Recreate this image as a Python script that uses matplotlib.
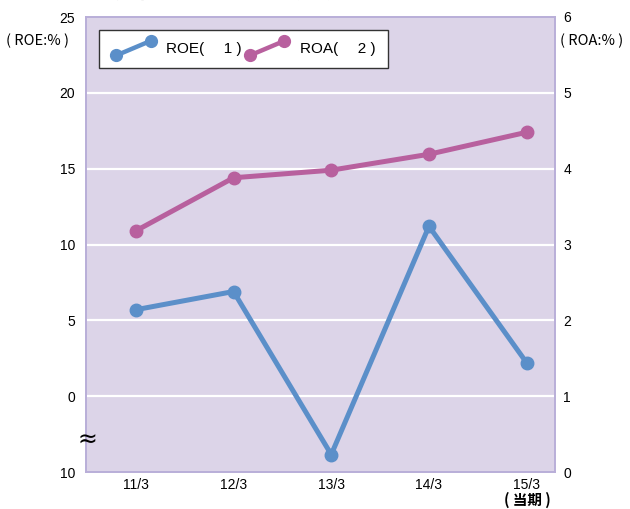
import numpy as np
import matplotlib.pyplot as plt
from matplotlib.legend_handler import HandlerBase
from matplotlib.lines import Line2D

plt.rcParams['font.family'] = ['Liberation Sans', 'Noto Sans CJK JP']
cjk = ['Noto Sans CJK JP', 'Liberation Sans']

periods = ['11/3', '12/3', '13/3', '14/3', '15/3']
roe = [5.7, 6.9, -7.7, 11.2, 2.2]      # %
roa = [3.18, 3.88, 3.98, 4.19, 4.48]  # %
roe_ticks = [-10, 0, 5, 10, 15, 20, 25]
roe_ticklabels = ['10', '0', '5', '10', '15', '20', '25']
roa_ticks = [0, 1, 2, 3, 4, 5, 6]

c_roe = '#5b8fc9'
c_roa = '#b8609e'
c_bg = '#dcd4e8'
c_edge = '#b9aed8'


# negative part of the ROE axis is squeezed (axis break)
def fwd(v):
    v = np.asarray(v, dtype=float)
    return np.where(v < 0, v / 2.0, v)


def inv(u):
    u = np.asarray(u, dtype=float)
    return np.where(u < 0, u * 2.0, u)


class DiagHandler(HandlerBase):
    def create_artists(self, legend, orig_handle, xdescent, ydescent,
                       width, height, fontsize, trans):
        x = [-xdescent + 0.12 * width, -xdescent + 0.92 * width]
        y = [-ydescent - 0.2 * height, -ydescent + 1.15 * height]
        ln = Line2D(x, y, color=orig_handle.get_color(), lw=3.2,
                    marker='o', ms=8.5)
        ln.set_transform(trans)
        return [ln]


fig = plt.figure(figsize=(6.3, 5.09), dpi=100)
ax = fig.add_axes([86 / 630, 1 - 472 / 509, 469 / 630, 455 / 509])
ax.set_facecolor(c_bg)
ax.set_yscale('function', functions=(fwd, inv))
ax.set_ylim(-10, 25)
ax.set_xlim(-0.51, 4.29)
ax.set_yticks(roe_ticks)
ax.set_yticklabels(roe_ticklabels)
ax.set_xticks(range(len(periods)))
ax.set_xticklabels(periods)
ax.tick_params(axis='y', length=0, labelsize=10, pad=8)
ax.tick_params(axis='x', length=0, labelsize=10, pad=4)
for y in roe_ticks[1:-1]:
    ax.axhline(y, color='white', lw=1.6, zorder=1)
for s in ax.spines.values():
    s.set_color(c_edge)
    s.set_linewidth(1.2)

x = np.arange(len(periods))
l1, = ax.plot(x, roe, color=c_roe, lw=3.6, marker='o', ms=9,
              solid_capstyle='round', zorder=3)

ax2 = ax.twinx()
ax2.set_ylim(0, 6)
ax2.set_yticks(roa_ticks)
ax2.tick_params(length=0, labelsize=10, pad=6)
for s in ax2.spines.values():
    s.set_color(c_edge)
    s.set_linewidth(1.2)
l2, = ax2.plot(x, roa, color=c_roa, lw=3.6, marker='o', ms=9,
               solid_capstyle='round', zorder=3)

leg = ax2.legend([l1, l2], ['ROE(\u3000 1 )', 'ROA(\u3000 2 )'],
                 handler_map={Line2D: DiagHandler()},
                 loc='upper left', bbox_to_anchor=(99 / 630, 1 - 30 / 509),
                 bbox_transform=fig.transFigure, ncol=2, fontsize=11,
                 frameon=True, fancybox=False, borderaxespad=0,
                 handlelength=2.8, columnspacing=0.2, handletextpad=0.8,
                 borderpad=0.8)
leg.get_frame().set_edgecolor('#333333')
leg.get_frame().set_linewidth(1.0)
leg.get_frame().set_alpha(1)

fig.text(38 / 630, 1 - 41 / 509, '( ROE:% )', ha='center', va='center',
         fontsize=10.5, family=cjk)
fig.text(592 / 630, 1 - 41 / 509, '( ROA:% )', ha='center', va='center',
         fontsize=10.5, family=cjk)
fig.text(527 / 630, 1 - 492 / 509, '( 当期 )', ha='center', va='top',
         fontsize=10.5, fontweight='bold', family=cjk)
fig.text(87 / 630, 1 - 440 / 509, '≈', ha='center', va='center',
         fontsize=17, family='DejaVu Sans')
fig.text(228 / 630, 1 + 9 / 509, '連結ROE・ROAの推移', ha='center',
         va='center', fontsize=16, fontweight='bold', family=cjk)

fig.savefig('out.png', dpi=100)
